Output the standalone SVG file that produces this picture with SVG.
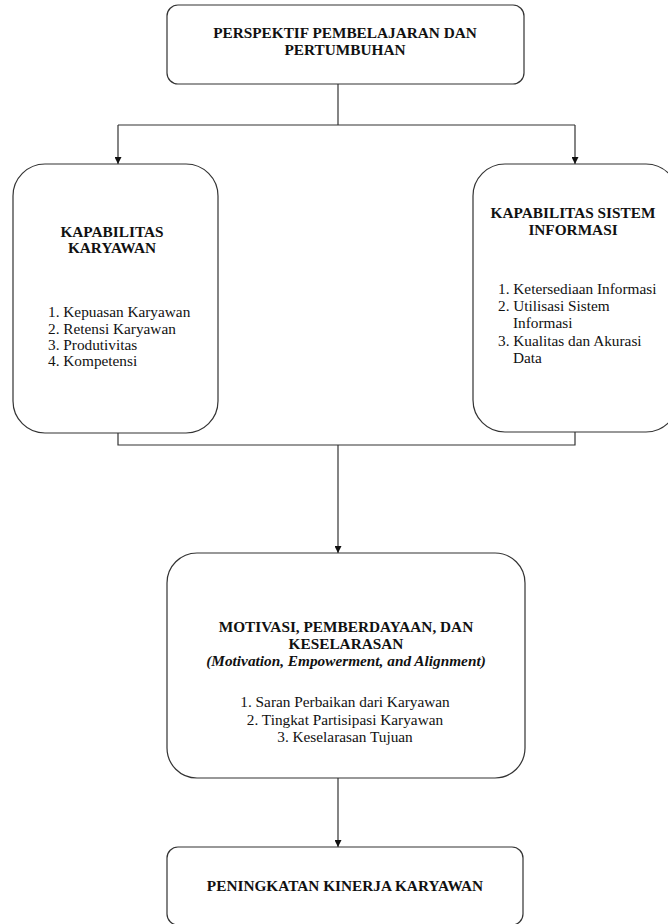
<svg xmlns="http://www.w3.org/2000/svg" width="668" height="924" viewBox="0 0 668 924">
<style>
.box{fill:#fff;stroke:#333;stroke-width:1.2}
.ln{fill:none;stroke:#333;stroke-width:1.2}
.t{font-family:'Liberation Serif','Times New Roman',serif;font-size:15.3px;fill:#111}
.b{font-weight:bold}
.c{text-anchor:middle}
.i{font-style:italic}
</style>
<defs>
<marker id="arr" viewBox="0 0 10 10" refX="10" refY="5" markerWidth="7" markerHeight="7" markerUnits="userSpaceOnUse" orient="auto">
<path d="M0,0 L10,5 L0,10 z" fill="#111"/>
</marker>
</defs>
<rect width="668" height="924" fill="#fff"/>
<g id="connectors">
<path class="ln" d="M338,84 V125"/>
<path class="ln" d="M118,125 H575"/>
<path class="ln" d="M118,125 V164" marker-end="url(#arr)"/>
<path class="ln" d="M575,125 V164" marker-end="url(#arr)"/>
<path class="ln" d="M118,433 V445 H575 V432"/>
<path class="ln" d="M338,445 V553" marker-end="url(#arr)"/>
<path class="ln" d="M338,778 V847" marker-end="url(#arr)"/>
</g>
<g id="node-perspektif">
<rect class="box" x="167" y="5" width="357" height="79" rx="11"/>
<text class="t b c" x="345" y="38">PERSPEKTIF PEMBELAJARAN DAN</text>
<text class="t b c" x="345" y="55">PERTUMBUHAN</text>
</g>
<g id="node-kapabilitas-karyawan">
<rect class="box" x="13" y="164" width="205" height="269" rx="32"/>
<text class="t b c" x="112" y="237">KAPABILITAS</text>
<text class="t b c" x="112" y="253">KARYAWAN</text>
<text class="t" x="48" y="317">1. Kepuasan Karyawan</text>
<text class="t" x="48" y="334">2. Retensi Karyawan</text>
<text class="t" x="48" y="350">3. Produtivitas</text>
<text class="t" x="48" y="366">4. Kompetensi</text>
</g>
<g id="node-kapabilitas-si">
<rect class="box" x="473" y="164" width="205" height="268" rx="32"/>
<text class="t b c" x="573" y="218">KAPABILITAS SISTEM</text>
<text class="t b c" x="573" y="235">INFORMASI</text>
<text class="t" x="498" y="294">1. Ketersediaan Informasi</text>
<text class="t" x="498" y="311">2. Utilisasi Sistem</text>
<text class="t" x="513" y="328">Informasi</text>
<text class="t" x="498" y="346">3. Kualitas dan Akurasi</text>
<text class="t" x="513" y="363">Data</text>
</g>
<g id="node-motivasi">
<rect class="box" x="167" y="553" width="358" height="225" rx="30"/>
<text class="t b c" x="346" y="632">MOTIVASI, PEMBERDAYAAN, DAN</text>
<text class="t b c" x="346" y="649">KESELARASAN</text>
<text class="t b i c" x="346" y="666">(Motivation, Empowerment, and Alignment)</text>
<text class="t c" x="345" y="707">1. Saran Perbaikan dari Karyawan</text>
<text class="t c" x="345" y="725">2. Tingkat Partisipasi Karyawan</text>
<text class="t c" x="345" y="742">3. Keselarasan Tujuan</text>
</g>
<g id="node-peningkatan">
<rect class="box" x="167" y="847" width="356" height="78" rx="11"/>
<text class="t b c" x="345" y="891">PENINGKATAN KINERJA KARYAWAN</text>
</g>
</svg>
